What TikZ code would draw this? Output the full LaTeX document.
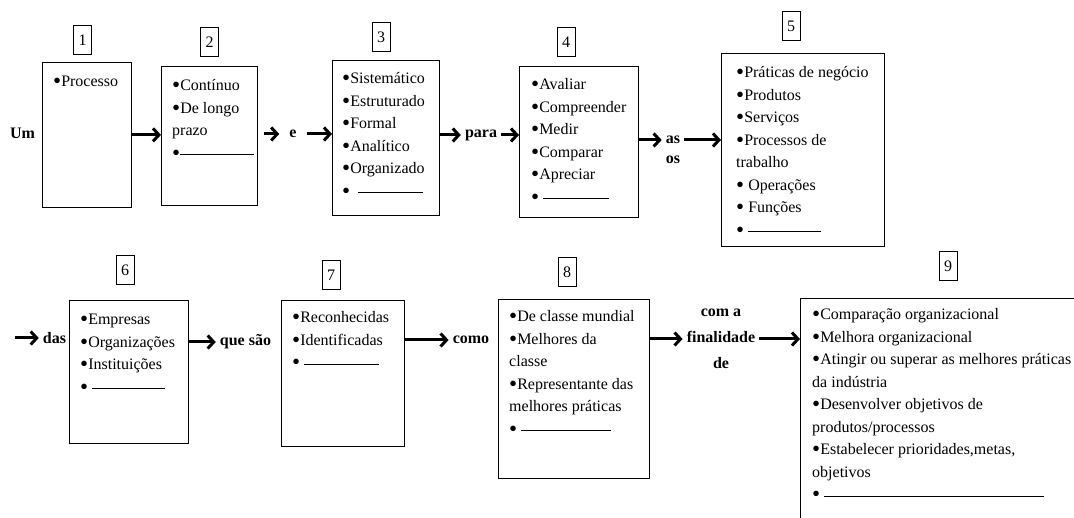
\documentclass[tikz,border=0pt]{standalone}
\usepackage{fontspec}
\setmainfont{Liberation Serif}
\usetikzlibrary{arrows.meta, positioning}

\newcommand{\blankline}[1]{\rule[0.22em]{#1pt}{0.6pt}}
\newcommand{\bul}{\raisebox{-1.6pt}{\fontsize{23}{23}\selectfont\textbullet}}

\begin{document}
\begin{tikzpicture}[
    x=1pt, y=-1pt,
    listbox/.style={draw, line width=0.8pt, anchor=north west, inner sep=0pt},
    itemlist/.style={anchor=north west, inner sep=0pt, align=left, font=\fontsize{16}{22.5}\selectfont},
    numbox/.style={draw, line width=0.7pt, minimum width=18pt, minimum height=29pt, inner sep=0pt, font=\fontsize{16}{18}\selectfont},
    word/.style={inner xsep=4pt, inner ysep=0pt, font=\fontsize{16}{26}\selectfont\bfseries, align=center},
    arr/.style={line width=3pt, -{Straight Barb[length=6pt,width=13pt]}}
]
    \clip (0,0) rectangle (1074,518);

    % Boxes
    \node[listbox, minimum width=89pt, minimum height=145pt] (b1) at (42,62) {};
    \node[listbox, minimum width=96pt, minimum height=139pt] (b2) at (161,66) {};
    \node[listbox, minimum width=107pt, minimum height=155pt] (b3) at (332,60) {};
    \node[listbox, minimum width=119pt, minimum height=151pt] (b4) at (519,66) {};
    \node[listbox, minimum width=163pt, minimum height=193pt] (b5) at (721,53) {};
    \node[listbox, minimum width=119pt, minimum height=143pt] (b6) at (69,300) {};
    \node[listbox, minimum width=123pt, minimum height=146pt] (b7) at (281,300) {};
    \node[listbox, minimum width=151pt, minimum height=179pt] (b8) at (498,299) {};
    \node[listbox, minimum width=300pt, minimum height=250pt] (b9) at (800,298) {};

    % Numbers
    \node[numbox] (n1) at (82.5,40) {1};
    \node[numbox] (n2) at (209.5,42) {2};
    \node[numbox] (n3) at (381,37) {3};
    \node[numbox] (n4) at (566,42) {4};
    \node[numbox] (n5) at (791,26) {5};
    \node[numbox] (n6) at (125,270) {6};
    \node[numbox] (n7) at (331,275) {7};
    \node[numbox] (n8) at (567,272) {8};
    \node[numbox] (n9) at (948,266) {9};

    % Lists
    \node[itemlist] (l1) at ([shift={(11,9)}]b1.north west) {\strut\bul Processo};
    \node[itemlist] (l2) at ([shift={(11,9)}]b2.north west) {\strut\bul Contínuo\\\bul De longo\\prazo\\\bul\blankline{74}};
    \node[itemlist] (l3) at ([shift={(10,8)}]b3.north west) {\strut\bul Sistemático\\\bul Estruturado\\\bul Formal\\\bul Analítico\\\bul Organizado\\\bul\ \ \blankline{65}};
    \node[itemlist] (l4) at ([shift={(12,8)}]b4.north west) {\strut\bul Avaliar\\\bul Compreender\\\bul Medir\\\bul Comparar\\\bul Apreciar\\\bul\ \blankline{66}};
    \node[itemlist] (l5) at ([shift={(15,9)}]b5.north west) {\strut\bul Práticas de negócio\\\bul Produtos\\\bul Serviços\\\bul Processos de\\trabalho\\\bul\ Operações\\\bul\ Funções\\\bul\ \blankline{73}};
    \node[itemlist] (l6) at ([shift={(11,9)}]b6.north west) {\strut\bul Empresas\\\bul Organizações\\\bul Instituições\\\bul\ \blankline{73}};
    \node[itemlist] (l7) at ([shift={(11,7)}]b7.north west) {\strut\bul Reconhecidas\\\bul Identificadas\\\bul\ \blankline{75}};
    \node[itemlist] (l8) at ([shift={(11,7)}]b8.north west) {\strut\bul De classe mundial\\\bul Melhores da\\classe\\\bul Representante das\\melhores práticas\\\bul\ \blankline{90}};
    \node[itemlist] (l9) at ([shift={(12,6)}]b9.north west) {\strut\bul Comparação organizacional\\\bul Melhora organizacional\\\bul Atingir ou superar as melhores práticas\\da indústria\\\bul Desenvolver objetivos de\\produtos/processos\\\bul Estabelecer prioridades,metas,\\objetivos\\\bul\ \blankline{220}};

    % Words
    \node[word] (um) at (22.5,133) {Um};
    \node[word, inner xsep=10pt] (we) at (293,134) {e};
    \node[word] (wpara) at (481,135) {para};
    \node[word] (was) at (673,140) {as};
    \node[word] (wos) at (673,160) {os};
    \coordinate (start) at (15,338);
    \node[word] (wdas) at (54.5,338) {das};
    \node[word] (wque) at (245.5,342) {que são};
    \node[word] (wcomo) at (471,340) {como};
    \node[word] (wfin) at (721,339) {com a\\finalidade\\de};

    % Connections
    \draw[arr] (b1.east) -- (b1.east -| b2.west);
    \draw[arr, shorten <=6pt] (b2.east |- we) -- (we);
    \draw[arr] (we) -- (we -| b3.west);
    \draw[arr] (b3.east |- wpara) -- (wpara);
    \draw[arr] (wpara) -- (wpara -| b4.west);
    \draw[arr] (b4.east |- was) -- (was);
    \draw[arr] (was) -- (was -| b5.west);
    \draw[arr] (start) -- (wdas);
    \draw[arr] (b6.east |- wque) -- (wque);
    \draw[arr] (b7.east |- wcomo) -- (wcomo);
    \draw[arr] (b8.east |- wfin) -- (wfin);
    \draw[arr] (wfin) -- (wfin -| b9.west);
\end{tikzpicture}
\end{document}
